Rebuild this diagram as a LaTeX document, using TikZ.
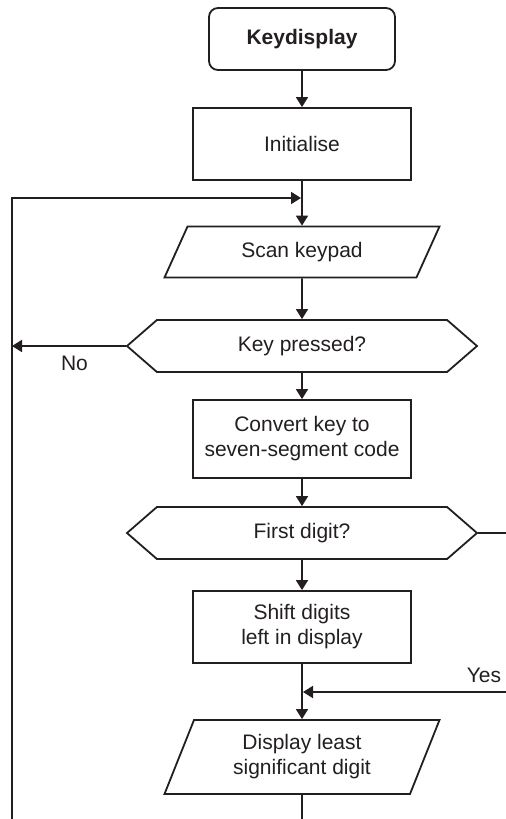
\documentclass[tikz,border=0pt]{standalone}
\usepackage{fontspec}
\setmainfont{Liberation Sans}
\usetikzlibrary{shapes.geometric,shapes.symbols,arrows.meta}

\definecolor{flowInk}{HTML}{231F20}

\def\flowFont{\fontsize{10.5}{12.5}\selectfont}
\def\flowWidth{109pt}
\def\testWidth{175pt}
\def\ioWidth{137.5pt}

\tikzset{
  flowLine/.style = {line width=0.9pt, draw=flowInk},
  flowArrow/.style = {flowLine, -{Triangle[length=5pt,width=6pt]}},
  flowTerm/.style = {flowLine, rectangle, rounded corners=4.5pt,
    minimum width=93pt, minimum height=31pt, font=\flowFont\bfseries},
  flowBox/.style = {flowLine, rectangle, minimum width=\flowWidth, align=center},
  flowIO/.style = {flowLine, trapezium, trapezium stretches body,
    minimum width=\ioWidth, align=center},
  flowTest/.style = {flowLine, signal, signal to=west and east,
    signal pointer angle=82, minimum width=\testWidth, minimum height=26pt},
}

\begin{document}
\begin{tikzpicture}[x=0.5pt, y=-0.5pt, font=\flowFont, text=flowInk]
  \useasboundingbox (0,0) rectangle (505,819);

  %% blocks
  \node [flowTerm] (start) at (302,39) {Keydisplay};
  \node [flowBox, minimum height=36pt] (init) at (302,144) {Initialise};
  \node [flowIO, trapezium left angle=55, trapezium right angle=125,
    minimum height=25.5pt] (scan) at (302,252) {Scan keypad};
  \node [flowTest] (keyQ) at (302,346) {Key pressed?};
  \node [flowBox, minimum height=39pt] (convert) at (302,439)
    {Convert key to\\seven-segment code};
  \node [flowTest] (firstQ) at (302,533) {First digit?};
  \node [flowBox, minimum height=36pt] (shift) at (302,627)
    {Shift digits\\left in display};
  \node [flowIO, trapezium left angle=63, trapezium right angle=117,
    minimum height=37pt] (show) at (302,757)
    {Display least\\significant digit};

  %% join points
  \coordinate (loopIn) at (301,198);
  \coordinate (yesIn) at (303,692);
  \coordinate (leftRail) at (12,0);

  %% main line
  \draw [flowArrow] (start) -- (init);
  \draw [flowArrow] (init) -- (scan);
  \draw [flowArrow] (scan) -- (keyQ);
  \draw [flowArrow] (keyQ) -- (convert);
  \draw [flowArrow] (convert) -- (firstQ);
  \draw [flowArrow] (firstQ) -- (shift);
  \draw [flowArrow] (shift) -- (show);

  %% branches
  \draw [flowArrow] (keyQ.west) -- (keyQ.west -| leftRail)
    node [pos=0.45, below=1pt] (noLabel) {No};
  \draw [flowArrow] (show.south) -- ++(0,40) -| (leftRail |- loopIn)
    -- (loopIn);
  \draw [flowArrow] (firstQ.east) -- ++(40,0) |- (yesIn);
  \node (yesLabel) at (484,675) {Yes};
\end{tikzpicture}
\end{document}
